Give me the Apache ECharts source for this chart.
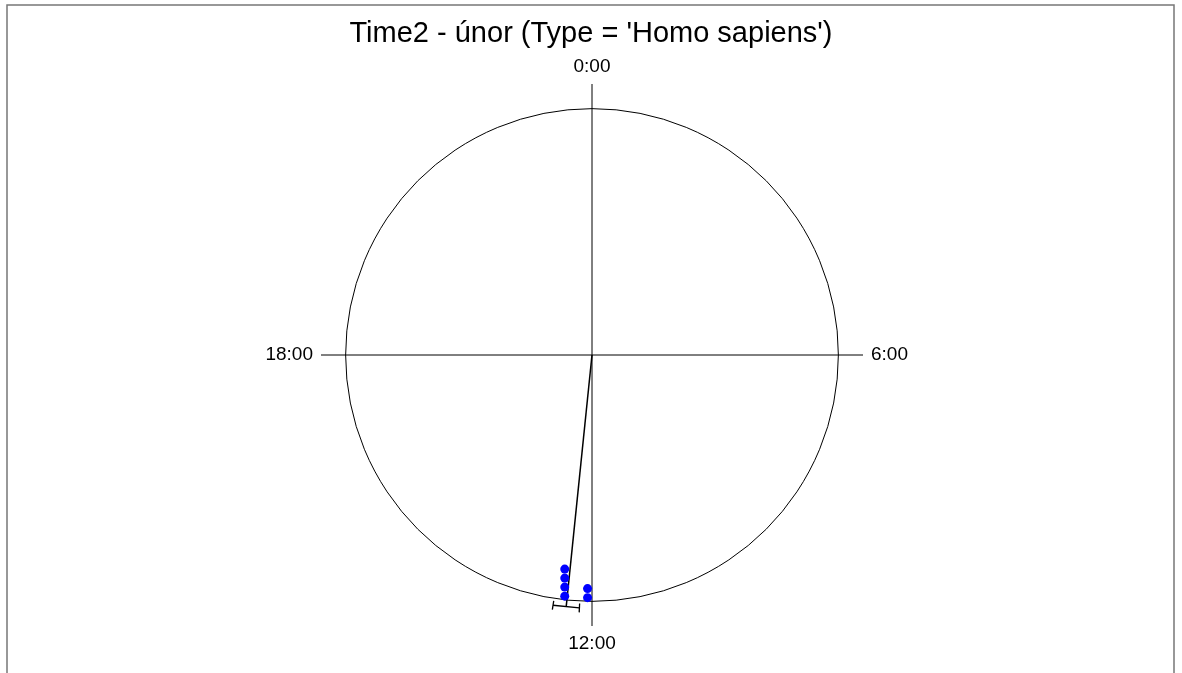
<!DOCTYPE html>
<html>
<head>
<meta charset="utf-8">
<title>Time2 - únor</title>
<script src="https://cdn.jsdelivr.net/npm/echarts@6/dist/echarts.min.js"></script>
<style>
  html, body { margin: 0; padding: 0; background: #fff; }
  #main { width: 1182px; height: 673px; }
</style>
</head>
<body>
<div id="main"></div>
<script>
// hours on the clock face
var hourTicks = [0, 6, 12, 18];
var hourLabels = ["0:00", "6:00", "12:00", "18:00"];

// observed times (hours) and how many dots are stacked at each
var dotTimes = [12.07, 12.43];
var dotCounts = [2, 4];

// mean direction and its confidence half-width (hours)
var meanTime = 12.39;
var ciHalf = 0.2;

var titleText = "Time2 - únor (Type = 'Homo sapiens')";

var DOT_R = 0.985;   // first dot, just inside the circle
var DOT_STEP = 0.0366;
var BAR_R = 1.028;   // where the mean line ends / CI bar sits
var CAP = 0.018;

// stack dots straight up (screen vertical), like the original
function toRad(h) { return h / 24 * 2 * Math.PI; }
function toHour(a) { return a / (2 * Math.PI) * 24; }
var dots = [];
dotTimes.forEach(function (t, i) {
  var a = toRad(t);
  var x = DOT_R * Math.sin(a);
  var y = DOT_R * Math.cos(a);
  for (var k = 0; k < dotCounts[i]; k++) {
    var yk = y + k * DOT_STEP; // y is negative near 12:00, move toward centre
    var r = Math.sqrt(x * x + yk * yk);
    var ang = Math.atan2(x, yk);
    if (ang < 0) ang += 2 * Math.PI;
    dots.push([r, toHour(ang)]);
  }
});

function seg(data, w) {
  return {
    type: "line",
    coordinateSystem: "polar",
    data: data,
    symbol: "none",
    silent: true,
    lineStyle: { color: "#000", width: w || 1 },
    z: 3
  };
}

var chart = echarts.init(document.getElementById("main"));
chart.setOption({
  backgroundColor: "#fff",
  animation: false,
  title: {
    text: titleText,
    left: "center",
    top: 14,
    textStyle: { fontFamily: "Arial, 'Liberation Sans'", fontSize: 29, fontWeight: "normal", color: "#000" }
  },
  graphic: [{
    type: "rect",
    shape: { x: 7, y: 5, width: 1167, height: 700 },
    style: { fill: "none", stroke: "#777", lineWidth: 1.5 },
    silent: true
  }],
  polar: { center: [592, 355], radius: 271 },
  angleAxis: {
    type: "value",
    min: 0,
    max: 24,
    interval: 6,
    startAngle: 90,
    clockwise: true,
    axisLine: { show: false },
    axisTick: { show: false },
    splitLine: { show: true, lineStyle: { color: "#000", width: 1 } },
    axisLabel: {
      margin: 8,
      color: "#000",
      fontSize: 19,
      fontFamily: "Arial, 'Liberation Sans'",
      formatter: function (v) {
        var i = hourTicks.indexOf(v);
        return i < 0 ? "" : hourLabels[i];
      }
    }
  },
  radiusAxis: {
    type: "value",
    min: 0,
    max: 1.1,
    interval: 1,
    axisLine: { show: false },
    axisTick: { show: false },
    axisLabel: { show: false },
    splitLine: { show: true, lineStyle: { color: ["transparent", "#000", "transparent"], width: 1 } }
  },
  series: [
    seg([[0, meanTime], [BAR_R, meanTime]], 1.5),
    seg([[BAR_R, meanTime - ciHalf], [BAR_R, meanTime + ciHalf]], 1.3),
    seg([[BAR_R - CAP, meanTime - ciHalf], [BAR_R + CAP, meanTime - ciHalf]], 1.3),
    seg([[BAR_R - CAP, meanTime + ciHalf], [BAR_R + CAP, meanTime + ciHalf]], 1.3),
    {
      type: "scatter",
      coordinateSystem: "polar",
      data: dots,
      symbol: "circle",
      symbolSize: 9,
      itemStyle: { color: "#0000ff", opacity: 1 },
      z: 4
    }
  ]
});
</script>
</body>
</html>
